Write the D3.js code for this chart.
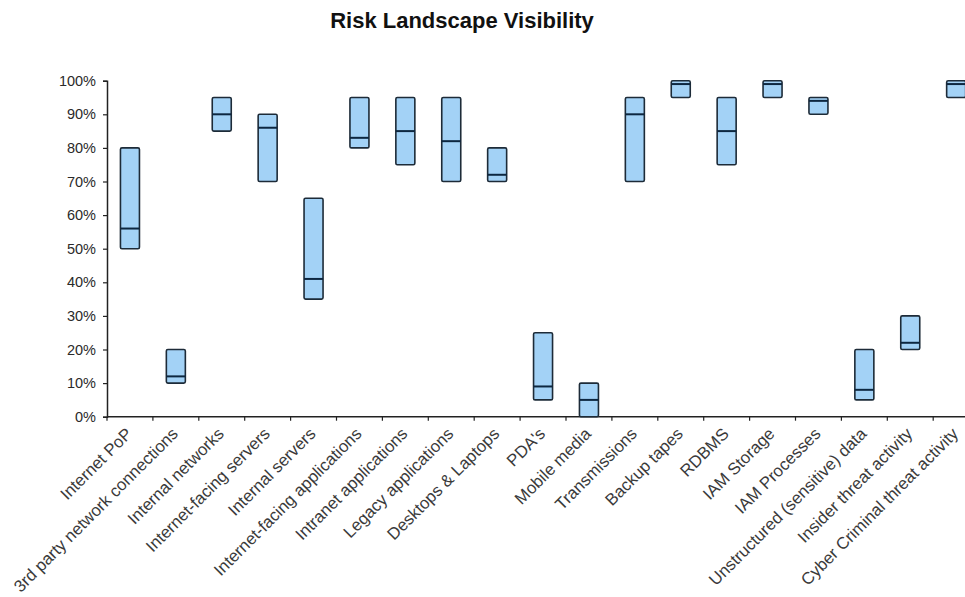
<!DOCTYPE html>
<html>
<head>
<meta charset="utf-8">
<script src="https://cdn.jsdelivr.net/npm/d3@7"></script>
<style>
  html, body { margin: 0; padding: 0; background: #fff; }
  svg { display: block; }
</style>
</head>
<body>
<svg id="chart" width="965" height="597"></svg>
<script>
const categories = [
  "Internet PoP", "3rd party network connections", "Internal networks",
  "Internet-facing servers", "Internal servers", "Internet-facing applications",
  "Intranet applications", "Legacy applications", "Desktops & Laptops",
  "PDA's", "Mobile media", "Transmissions", "Backup tapes", "RDBMS",
  "IAM Storage", "IAM Processes", "Unstructured (sensitive) data",
  "Insider threat activity", "Cyber Criminal threat activity"
];
const lowValues  = [50, 10, 85, 70, 35, 80, 75, 70, 70,  5,  0, 70, 95, 75, 95, 90,  5, 20, 95];
const midValues  = [56, 12, 90, 86, 41, 83, 85, 82, 72,  9,  5, 90, 99, 85, 99, 94,  8, 22, 99];
const highValues = [80, 20, 95, 90, 65, 95, 95, 95, 80, 25, 10, 95, 100, 95, 100, 95, 20, 30, 100];
const yTicks = [0, 10, 20, 30, 40, 50, 60, 70, 80, 90, 100];
const title = "Risk Landscape Visibility";

const svg = d3.select("#chart");
const mLeft = 107, mTop = 80.7, mBottom = 416.7;
const bandW = 45.9;
const mRight = mLeft + bandW * categories.length;

const x = d3.scaleBand().domain(categories).range([mLeft, mRight]).paddingInner(0).paddingOuter(0);
const y = d3.scaleLinear().domain([0, 100]).range([mBottom, mTop]);

svg.append("text")
  .attr("x", 462).attr("y", 28)
  .attr("text-anchor", "middle")
  .attr("font-family", "Liberation Sans, Arial, sans-serif")
  .attr("font-weight", "bold")
  .attr("font-size", 22)
  .attr("fill", "#111")
  .text(title);

// Y axis
const yAxis = svg.append("g")
  .attr("transform", `translate(${mLeft},0)`)
  .call(d3.axisLeft(y).tickValues(yTicks).tickFormat(d => d + "%").tickSize(4).tickPadding(7));
yAxis.select(".domain").attr("stroke", "#222").attr("stroke-width", 1.5);
yAxis.selectAll(".tick line").attr("stroke", "#222").attr("stroke-width", 1.2);
yAxis.selectAll("text")
  .attr("font-family", "Liberation Sans, Arial, sans-serif")
  .attr("font-size", 14.5).attr("fill", "#2a2a2a");

// X axis line + boundary ticks
const xg = svg.append("g");
xg.append("line")
  .attr("x1", mLeft).attr("x2", mRight)
  .attr("y1", y(0)).attr("y2", y(0))
  .attr("stroke", "#222").attr("stroke-width", 1.5);
const boundaries = categories.map(c => x(c)).concat([mRight]);
xg.selectAll("line.tk").data(boundaries).enter().append("line")
  .attr("class", "tk")
  .attr("x1", d => d).attr("x2", d => d)
  .attr("y1", y(0)).attr("y2", y(0) + 4)
  .attr("stroke", "#222").attr("stroke-width", 1.2);

xg.selectAll("text.lbl").data(categories).enter().append("text")
  .attr("class", "lbl")
  .attr("transform", d => `translate(${x(d) + x.bandwidth() / 2 - 1},${y(0) + 14}) rotate(-45)`)
  .attr("text-anchor", "end")
  .attr("dy", "0.35em")
  .attr("font-family", "Liberation Sans, Arial, sans-serif")
  .attr("font-size", 16.8)
  .attr("fill", "#3a3a3a")
  .text(d => d);

// Boxes
const barW = 19;
const data = categories.map((c, i) => ({ c, lo: lowValues[i], mid: midValues[i], hi: highValues[i] }));
const g = svg.append("g");
g.selectAll("rect.box").data(data).enter().append("rect")
  .attr("class", "box")
  .attr("x", d => x(d.c) + x.bandwidth() / 2 - barW / 2)
  .attr("y", d => y(d.hi))
  .attr("width", barW)
  .attr("height", d => y(d.lo) - y(d.hi))
  .attr("rx", 1.5)
  .attr("fill", "#a3d2f6")
  .attr("stroke", "#1d2b38")
  .attr("stroke-width", 1.6);
g.selectAll("line.mid").data(data).enter().append("line")
  .attr("class", "mid")
  .attr("x1", d => x(d.c) + x.bandwidth() / 2 - barW / 2)
  .attr("x2", d => x(d.c) + x.bandwidth() / 2 + barW / 2)
  .attr("y1", d => y(d.mid)).attr("y2", d => y(d.mid))
  .attr("stroke", "#0d2740")
  .attr("stroke-width", 2);
</script>
</body>
</html>
